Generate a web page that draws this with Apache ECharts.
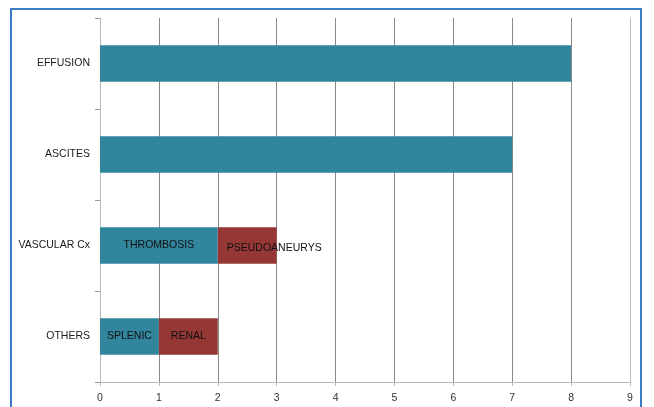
<!DOCTYPE html>
<html>
<head>
<meta charset="utf-8">
<script src="https://cdn.jsdelivr.net/npm/echarts@6/dist/echarts.min.js"></script>
<style>
  html, body { margin: 0; padding: 0; background: #ffffff; }
  #chart { width: 654px; height: 407px; }
</style>
</head>
<body>
<div id="chart"></div>
<script>
// Categories listed bottom-to-top (category axis on y)
const categories = ['OTHERS', 'VASCULAR Cx', 'ASCITES', 'EFFUSION'];

// First stacked segment (teal) and its in-bar names
const firstValues = [1, 2, 7, 8];
const firstNames = ['SPLENIC', 'THROMBOSIS', '', ''];

// Second stacked segment (red) and its in-bar names
const secondValues = [1, 1, null, null];
const secondNames = ['RENAL', 'PSEUDOANEURYS', '', ''];

const xTicks = [0, 1, 2, 3, 4, 5, 6, 7, 8, 9];

const FONT = 'Liberation Sans';
const chart = echarts.init(document.getElementById('chart'), null, { renderer: 'canvas' });

chart.setOption({
  animation: false,
  backgroundColor: '#ffffff',
  textStyle: { fontFamily: FONT },
  graphic: [{
    type: 'rect',
    shape: { x: 11, y: 9, width: 630, height: 420 },
    style: { fill: 'none', stroke: '#3d7cc4', lineWidth: 2 },
    silent: true,
    z: 100
  }],
  grid: { left: 100, right: 24, top: 18, bottom: 25, containLabel: false },
  xAxis: {
    type: 'value',
    min: xTicks[0],
    max: xTicks[xTicks.length - 1],
    interval: 1,
    axisLine: { show: true, lineStyle: { color: '#b8b8b8', width: 1 } },
    axisTick: { show: true, length: 4, lineStyle: { color: '#b8b8b8' } },
    axisLabel: { color: '#333333', fontSize: 10.5, fontFamily: FONT, margin: 11 },
    splitLine: {
      show: true,
      lineStyle: {
        color: ['#8a8a8a', '#8a8a8a', '#8a8a8a', '#8a8a8a', '#8a8a8a',
                '#8a8a8a', '#8a8a8a', '#8a8a8a', '#8a8a8a', '#bdbdbd'],
        width: 1
      }
    }
  },
  yAxis: {
    type: 'category',
    data: categories,
    axisLine: { show: true, lineStyle: { color: '#b8b8b8', width: 1 } },
    axisTick: { show: true, length: 5, lineStyle: { color: '#9a9a9a' } },
    axisLabel: { color: '#1a1a1a', fontSize: 10.5, fontFamily: FONT, margin: 10, padding: [3, 0, 0, 0] },
    splitLine: { show: false }
  },
  series: [
    {
      name: 'first',
      type: 'bar',
      stack: 'total',
      barWidth: '40%',
      data: firstValues,
      itemStyle: { color: '#31859c' },
      label: {
        show: true,
        position: 'inside',
        color: '#111111',
        fontSize: 10.5,
        fontFamily: FONT,
        formatter: p => firstNames[p.dataIndex]
      }
    },
    {
      name: 'second',
      type: 'bar',
      stack: 'total',
      barWidth: '40%',
      data: secondValues.map((v, i) => {
        const item = { value: v };
        if (secondNames[i] === 'PSEUDOANEURYS') {
          item.label = { position: 'insideLeft', distance: 9, offset: [0, 3] };
        }
        return item;
      }),
      itemStyle: { color: '#953735' },
      label: {
        show: true,
        position: 'inside',
        color: '#111111',
        fontSize: 10.5,
        fontFamily: FONT,
        formatter: p => secondNames[p.dataIndex]
      }
    }
  ]
});
</script>
</body>
</html>
